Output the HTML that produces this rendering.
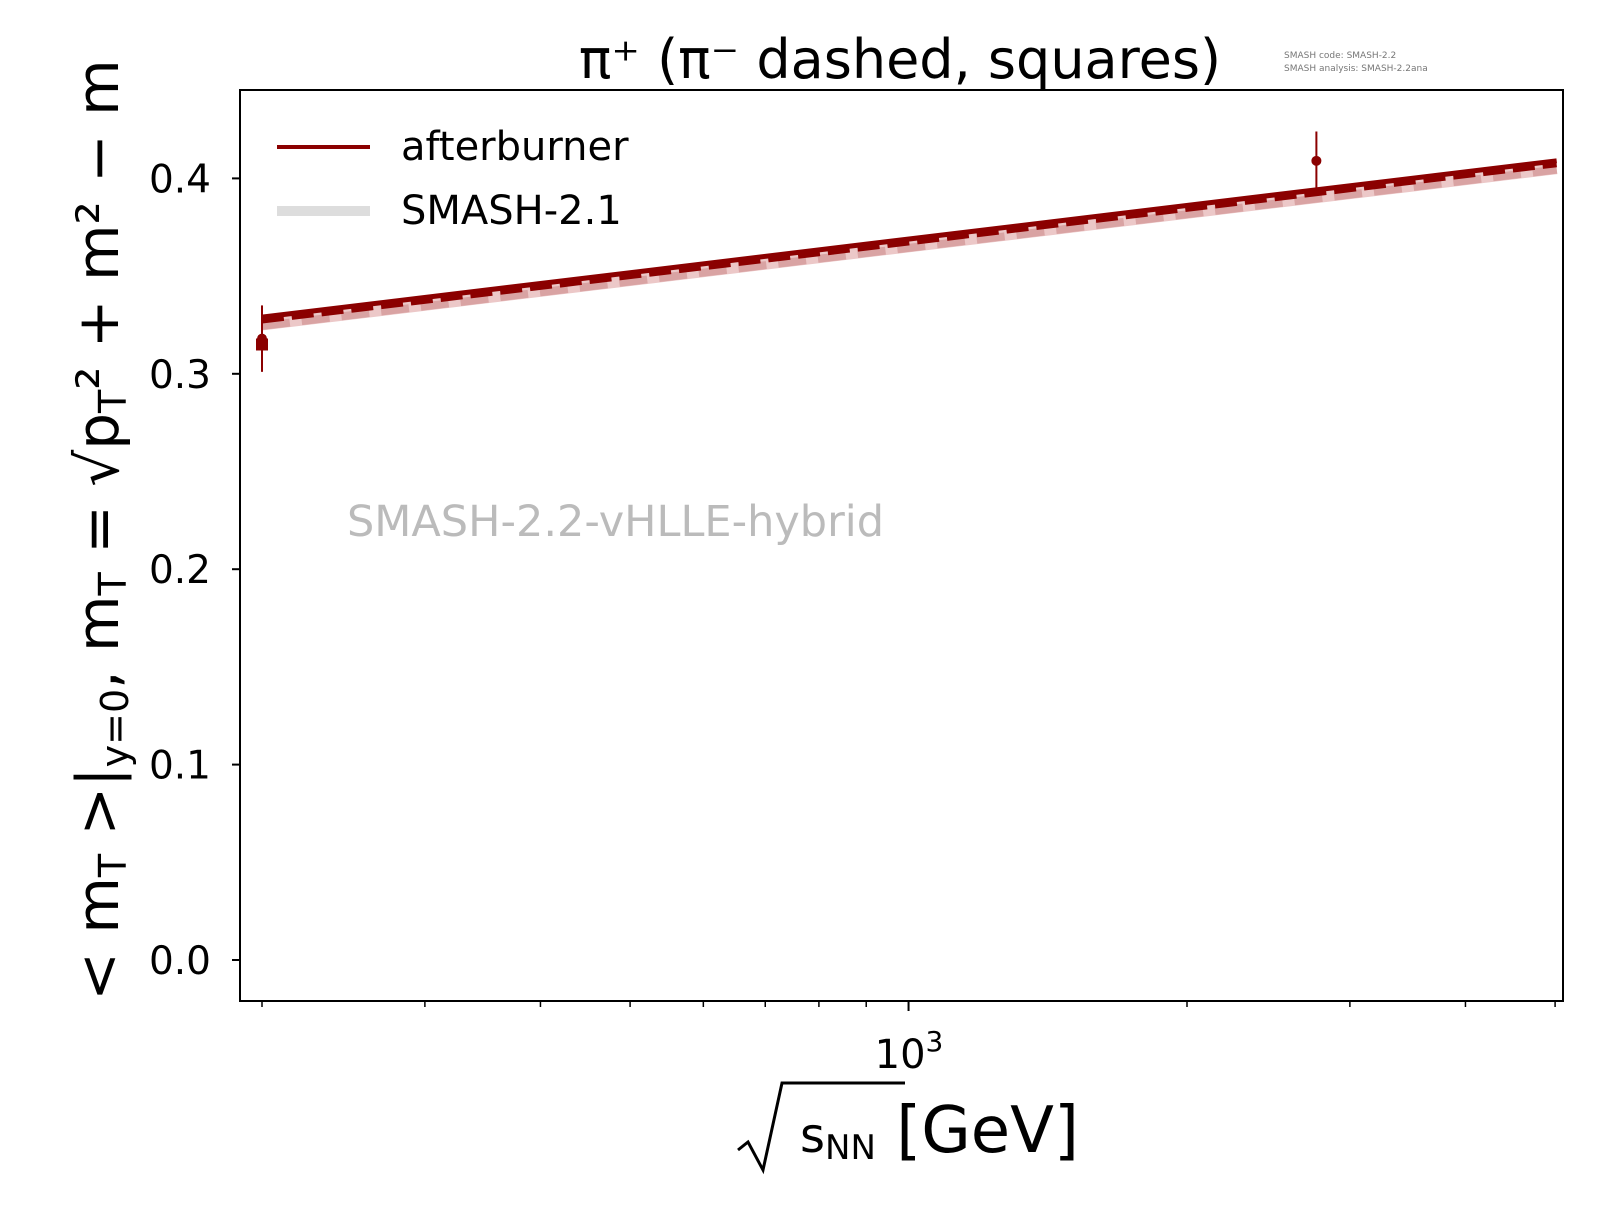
<!DOCTYPE html>
<html><head><meta charset="utf-8"><style>
body{margin:0;background:#fff;}
svg text{font-family:"DejaVu Sans","Liberation Sans",sans-serif;}
</style></head><body>
<svg id="chart" width="1600" height="1200" viewBox="0 0 1600 1200" xmlns="http://www.w3.org/2000/svg">
<rect width="1600" height="1200" fill="#fff"/>
<text x="900" y="78" font-size="54" text-anchor="middle">π⁺ (π⁻ dashed, squares)</text>
<text x="1284" y="58" font-size="9" fill="#777">SMASH code:      SMASH-2.2</text>
<text x="1284" y="71" font-size="9" fill="#777">SMASH analysis:  SMASH-2.2ana</text>
<g id="plot"></g>
<rect x="240" y="90" width="1323" height="911" fill="none" stroke="#000" stroke-width="2"/>
<text x="347" y="536" font-size="43" fill="#bbb">SMASH-2.2-vHLLE-hybrid</text>
<g>
<line x1="277" y1="147" x2="370" y2="147" stroke="#8b0000" stroke-width="4"/>
<text x="401" y="160" font-size="40">afterburner</text>
<line x1="277" y1="211" x2="370" y2="211" stroke="#ddd" stroke-width="10"/>
<text x="401" y="224" font-size="40">SMASH-2.1</text>
</g>
<text x="909" y="1068" font-size="40" text-anchor="middle">10<tspan dy="-17" font-size="28">3</tspan></text>
<g>
<path d="M738 1150 L748 1142 L763 1170 L782 1083 L905 1083" fill="none" stroke="#000" stroke-width="3"/>
<text x="800" y="1152" font-size="48" font-family="Liberation Serif,serif">s<tspan font-size="34" dy="7">NN</tspan><tspan dy="-7" font-size="64"> [GeV]</tspan></text>
</g>
<text transform="translate(118,530) rotate(-90)" font-size="58" text-anchor="middle" font-family="Liberation Serif,serif">&lt; m<tspan font-size="38" dy="8">T</tspan><tspan dy="-8"> &gt;|</tspan><tspan font-size="38" dy="10">y=0</tspan><tspan dy="-10">, m</tspan><tspan font-size="38" dy="8">T</tspan><tspan dy="-8"> = √p</tspan><tspan font-size="38" dy="8">T</tspan><tspan dy="-8">² + m² − m</tspan></text>
</svg>
<script>
const energies=[200,2760];
const afterburnerEnds=[0.329,0.409];
const afterburnerMinusEnds=[0.327,0.407];
const smash21Ends=[0.325,0.405];
const lineX=[200,5020];
const dataPlus=[0.318,0.409];
const dataPlusErr=[0.017,0.015];
const dataMinus=[0.315];
const yTicks=[0.0,0.1,0.2,0.3,0.4];
const yTickLabels=["0.0","0.1","0.2","0.3","0.4"];
const minorTicks=[200,300,400,500,600,700,800,900,2000,3000,4000,5000];
const NS="http://www.w3.org/2000/svg";
const g=document.getElementById('plot');
function xs(v){return 262+Math.log10(v/200)*925;}
function ys(v){return 960-v*1954;}
function mk(t,a){const e=document.createElementNS(NS,t);for(const k in a)e.setAttribute(k,a[k]);g.appendChild(e);return e;}
yTicks.forEach((t,i)=>{
 let l=mk('line',{x1:232,x2:240,y1:ys(t),y2:ys(t),stroke:'#000','stroke-width':2});
 
 
 let tx=mk('text',{x:211,y:ys(t)+14,'font-size':39,'text-anchor':'end'});tx.textContent=yTickLabels[i];
 
 
});
minorTicks.forEach(t=>{
 let l=mk('line',{x1:xs(t),x2:xs(t),y1:1001,y2:1007,stroke:'#000','stroke-width':1.5});
 
 
});
let mj=mk('line',{x1:xs(1000),x2:xs(1000),y1:1001,y2:1011,stroke:'#000','stroke-width':2});


let s=mk('line',{x1:xs(lineX[0]),x2:xs(lineX[1]),y1:ys(smash21Ends[0]),y2:ys(smash21Ends[1]),stroke:'#ecc8c8','stroke-width':11});


let s2=mk('line',{x1:xs(lineX[0]),x2:xs(lineX[1]),y1:ys(smash21Ends[0])+1,y2:ys(smash21Ends[1])+1,stroke:'#d9a3a3','stroke-width':8,'stroke-dasharray':'28 12'});


let am=mk('line',{x1:xs(lineX[0]),x2:xs(lineX[1]),y1:ys(afterburnerMinusEnds[0]),y2:ys(afterburnerMinusEnds[1]),stroke:'#8b0000','stroke-width':5,'stroke-dasharray':'22 8'});


let ap=mk('line',{x1:xs(lineX[0]),x2:xs(lineX[1]),y1:ys(afterburnerEnds[0]),y2:ys(afterburnerEnds[1]),stroke:'#8b0000','stroke-width':5});


dataMinus.forEach((v,i)=>{
 let r=mk('rect',{x:xs(energies[i])-6,y:ys(v)-6,width:12,height:12,fill:'#8b0000'});
 
 
});
energies.forEach((e,i)=>{
 let eb=mk('line',{x1:xs(e),x2:xs(e),y1:ys(dataPlus[i]-dataPlusErr[i]),y2:ys(dataPlus[i]+dataPlusErr[i]),stroke:'#8b0000','stroke-width':2});
 
 
 let c=mk('circle',{cx:xs(e),cy:ys(dataPlus[i]),r:5,fill:'#8b0000'});
 
 
});
</script>
</body></html>
